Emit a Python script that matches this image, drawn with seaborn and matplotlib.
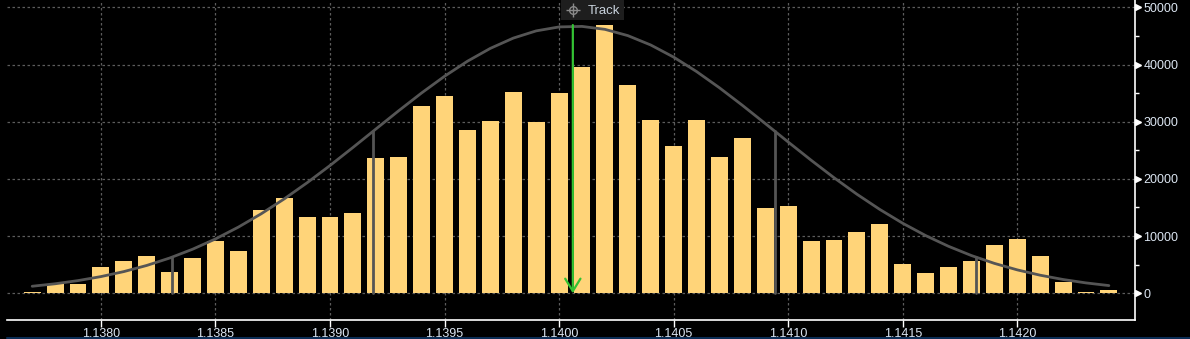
import numpy as np
import matplotlib
matplotlib.use("Agg")
import matplotlib.pyplot as plt
import matplotlib.lines as mlines
import matplotlib.patches as mpatches
import matplotlib.transforms as mtransforms
import seaborn as sns

# ---- data ----
prices = [round(1.1377 + 0.0001 * i, 4) for i in range(48)]
volumes = [300, 1630, 1630, 4600, 5650, 6520, 3720, 6170, 9140, 7390,
           14560, 16660, 13340, 13340, 14040, 23650, 23830, 32750, 34500, 28550,
           30120, 35190, 29950, 35020, 39560, 46910, 36420, 30300, 25750, 30300,
           23830, 27150, 14910, 15260, 9140, 9320, 10720, 12120, 5120, 3550,
           4600, 5650, 8440, 9490, 6520, 1980, 300, 500]
x_ticks = [1.1380, 1.1385, 1.1390, 1.1395, 1.1400, 1.1405, 1.1410, 1.1415, 1.1420]
x_tick_labels = ["1.1380", "1.1385", "1.1390", "1.1395", "1.1400", "1.1405",
                 "1.1410", "1.1415", "1.1420"]
y_ticks = [0, 10000, 20000, 30000, 40000, 50000]
y_tick_labels = ["0", "10000", "20000", "30000", "40000", "50000"]
y_minor_ticks = [5000, 15000, 25000, 35000, 45000]
track_price = 1.14006
track_label = "Track"

# normal-fit parameters (mean, sigma, peak height)
fit_mean = 1.140065
fit_sigma = 0.000877
fit_peak = 46700
sigma_marks = [-2, -1, 1, 2]

p = np.array(prices)
fit = fit_peak * np.exp(-0.5 * ((p - fit_mean) / fit_sigma) ** 2)

BG = "#000000"
BAR = "#FFD479"
CURVE = "#555555"
GRID = "#5c5c5c"
TXT = "#DCE6F2"

sns.set_style("dark")
plt.rcParams["font.family"] = ["Liberation Sans", "DejaVu Sans"]

W, H = 1190, 339
fig = plt.figure(figsize=(W / 100, H / 100), dpi=100, facecolor=BG)
ax = fig.add_axes([7 / W, 19 / H, 1128 / W, 320 / H])
ax.set_facecolor(BG)

sns.barplot(x=prices, y=volumes, native_scale=True, width=0.74, color=BAR,
            saturation=1, linewidth=0, ax=ax)
sns.lineplot(x=prices, y=fit, color=CURVE, linewidth=2, ax=ax)

for k in sigma_marks:
    xs = fit_mean + k * fit_sigma
    ys = fit_peak * np.exp(-0.5 * k * k)
    ax.plot([xs, xs], [0, ys], color=CURVE, linewidth=2, zorder=3)

ax.annotate("", xy=(track_price, 0), xytext=(track_price, 46900),
            arrowprops=dict(arrowstyle="->,head_length=0.9,head_width=0.55",
                            color="#33C233", lw=1.6, shrinkA=0, shrinkB=0),
            zorder=5)

# "Track" badge at the top
fig.add_artist(mpatches.Rectangle((561 / W, 1 - 20 / H), 63 / W, 20 / H,
                                  transform=fig.transFigure, fc="#1E1E1E",
                                  ec="none", zorder=10))
fig.text(588 / W, 1 - 10.5 / H, track_label, color="#C8D2DC", fontsize=9.5,
         ha="left", va="center", zorder=11)
cx, cy = 573 / W, 1 - 10 / H
fig.add_artist(mlines.Line2D([cx], [cy], marker="o", markersize=5.5,
                             markerfacecolor="none", markeredgecolor="#8A8A8A",
                             markeredgewidth=1, transform=fig.transFigure, zorder=11))
fig.add_artist(mlines.Line2D([cx], [cy], marker="+", markersize=10,
                             markeredgecolor="#8A8A8A", markeredgewidth=1,
                             transform=fig.transFigure, zorder=11))
# thin blue bottom line
fig.add_artist(mlines.Line2D([7 / W, 1], [0.6 / H, 0.6 / H], color="#0B2D55",
                             linewidth=1.5, transform=fig.transFigure))

ax.set_xlim(1.13759, 1.142514)
ax.set_ylim(-4670, 51280)
ax.set_xticks(x_ticks)
ax.set_xticklabels(x_tick_labels)
ax.set_yticks(y_ticks)
ax.set_yticklabels(y_tick_labels)
ax.set_yticks(y_minor_ticks, minor=True)
ax.yaxis.tick_right()
ax.set_xlabel("")
ax.set_ylabel("")

ax.grid(True, which="major", color=GRID, linestyle=(0, (2, 2)), linewidth=0.9)
ax.grid(False, which="minor")
ax.set_axisbelow(True)
for s in ("top", "left"):
    ax.spines[s].set_visible(False)
for s in ("bottom", "right"):
    ax.spines[s].set_visible(True)
    ax.spines[s].set_color("#FFFFFF")
    ax.spines[s].set_linewidth(1.2)

# small triangular major tick markers on the right axis
tri_tr = ax.get_yaxis_transform() + mtransforms.ScaledTranslation(3 / 100, 0, fig.dpi_scale_trans)
ax.plot([1.0] * len(y_ticks), y_ticks, linestyle="none", marker=">",
        markersize=4.5, color="#FFFFFF", transform=tri_tr,
        clip_on=False, zorder=6)

ax.tick_params(axis="x", colors="#FFFFFF", labelcolor=TXT, labelsize=9,
               length=5, width=1, direction="out", pad=1, bottom=True)
ax.tick_params(axis="y", which="major", colors="#FFFFFF", labelcolor=TXT,
               labelsize=9, length=0, pad=6, right=True, left=False)
ax.tick_params(axis="y", which="minor", colors="#FFFFFF", length=3, width=1,
               right=True, left=False)

fig.savefig("out.png", dpi=100, facecolor=BG)
